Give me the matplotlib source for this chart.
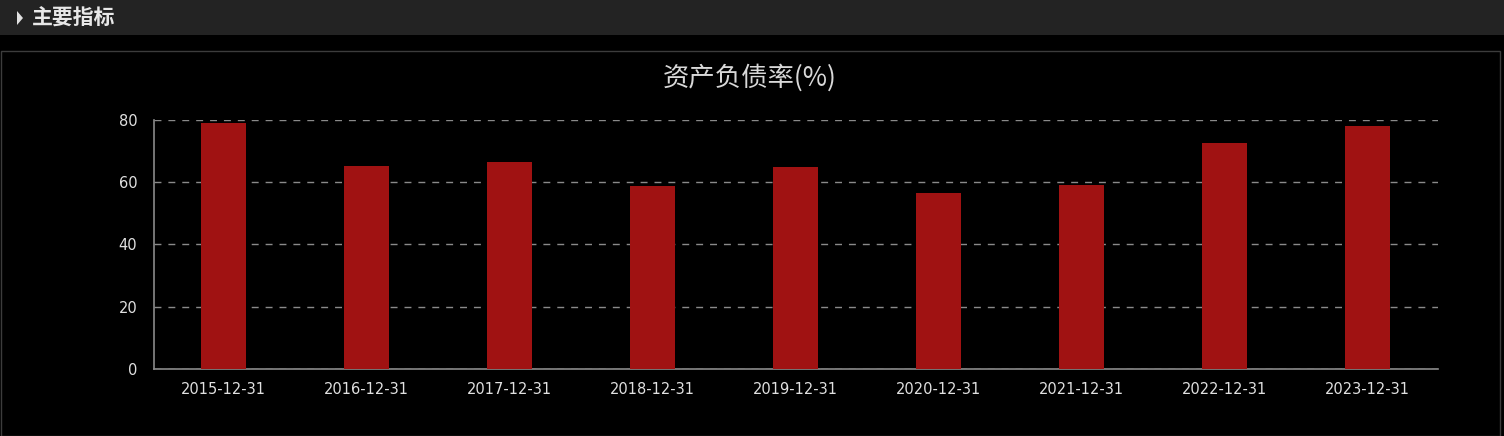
import matplotlib
matplotlib.use('Agg')
import matplotlib.pyplot as plt
from matplotlib.patches import Rectangle, Polygon

plt.rcParams['font.family'] = ['Noto Sans CJK SC', 'DejaVu Sans']

# data
dates = ['2015-12-31', '2016-12-31', '2017-12-31', '2018-12-31', '2019-12-31',
         '2020-12-31', '2021-12-31', '2022-12-31', '2023-12-31']
debt_ratio = [79.0, 65.2, 66.5, 58.8, 64.9, 56.5, 59.1, 72.6, 78.2]
y_ticks = [0, 20, 40, 60, 80]

W, H = 1504, 436
fig = plt.figure(figsize=(W / 100, H / 100), dpi=100)
fig.patch.set_facecolor('black')

# header bar
fig.patches.append(Rectangle((0, 1 - 35 / H), 1, 35 / H, transform=fig.transFigure,
                             facecolor='#232323', edgecolor='none', zorder=0))
fig.patches.append(Polygon([(17 / W, 1 - 11 / H), (17 / W, 1 - 25 / H), (23 / W, 1 - 18 / H)],
                           closed=True, transform=fig.transFigure,
                           facecolor='#e0e0e0', edgecolor='none'))
fig.text(32 / W, 1 - 18 / H, '主要指标', color='#e8e8e8', fontsize=15,
         fontweight='bold', va='center', ha='left')

# panel border
fig.patches.append(Rectangle((0.5 / W, 0), (W - 5) / W, 1 - 50.5 / H, transform=fig.transFigure,
                             facecolor='none', edgecolor='#3c3c3c', linewidth=1))

fig.text(750 / W, 1 - 78 / H, '资产负债率(%)', color='#d8d8d8', fontsize=19,
         ha='center', va='center')

ax = fig.add_axes([154 / W, 1 - 369 / H, (1438 - 154) / W, (369 - 120) / H])
ax.set_facecolor('black')

x = range(len(dates))
ax.bar(x, debt_ratio, width=0.315, color='#a01212', zorder=3)

ax.set_xlim(-0.486, 8.493)
ax.set_ylim(0, 80)
ax.set_yticks(y_ticks)
ax.set_xticks(list(x))
ax.set_xticklabels(dates)

ax.grid(axis='y', color='#8a8a8a', linestyle=(0, (5, 5)), linewidth=1, zorder=0)
for s in ['top', 'right']:
    ax.spines[s].set_visible(False)
for s in ['left', 'bottom']:
    ax.spines[s].set_color('#8a8a8a')
    ax.spines[s].set_linewidth(1.2)

ax.tick_params(axis='both', length=0, colors='#e0e0e0', labelsize=10.5)
ax.tick_params(axis='y', pad=12)
ax.tick_params(axis='x', pad=9)
for lbl in ax.get_xticklabels() + ax.get_yticklabels():
    lbl.set_family('DejaVu Sans')

fig.savefig('out.png', dpi=100, facecolor='black')
